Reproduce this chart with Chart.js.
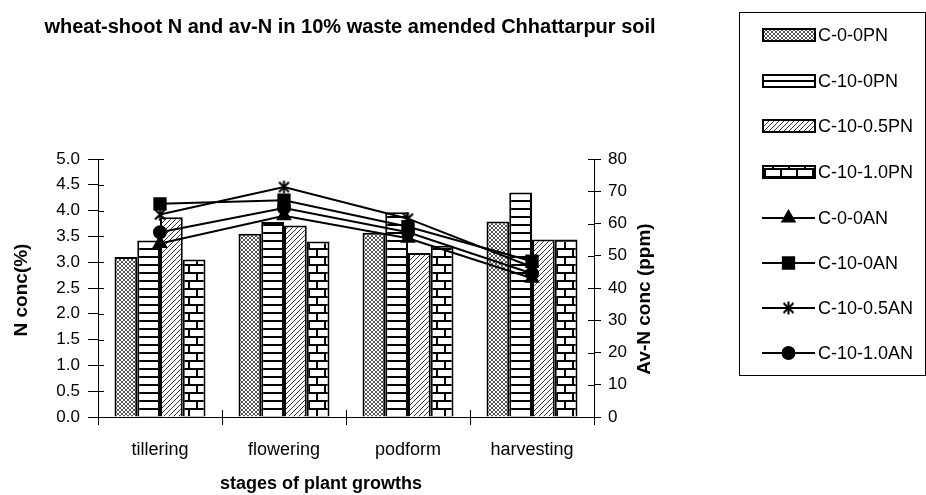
<!DOCTYPE html>
<html><head><meta charset="utf-8">
<script src="https://cdn.jsdelivr.net/npm/chart.js@4.4.0/dist/chart.umd.min.js"></script>
<style>html,body{margin:0;padding:0;background:#fff;}canvas{display:block;}</style>
</head><body>
<canvas id="c" width="926" height="495"></canvas>
<script>
const categories = ['tillering', 'flowering', 'podform', 'harvesting'];
const barLabels = ['C-0-0PN', 'C-10-0PN', 'C-10-0.5PN', 'C-10-1.0PN'];
const pnC00  = [3.10, 3.55, 3.57, 3.79];
const pnC100 = [3.42, 3.78, 3.97, 4.35];
const pnC105 = [3.87, 3.71, 3.18, 3.44];
const pnC110 = [3.05, 3.40, 3.32, 3.44];
const lineLabels = ['C-0-0AN', 'C-10-0AN', 'C-10-0.5AN', 'C-10-1.0AN'];
const anC00  = [53.8, 62.4, 55.4, 43.0];
const anC100 = [66.1, 67.2, 59.0, 48.3];
const anC105 = [62.8, 71.3, 61.5, 46.5];
const anC110 = [57.3, 64.8, 57.3, 44.5];
const titleText = 'wheat-shoot N and av-N in 10% waste amended Chhattarpur soil';
const xTitle = 'stages of plant growths';
const yTitle = 'N conc(%)';
const y1Title = 'Av-N conc (ppm)';

function tile(w, h, draw) {
  const c = document.createElement('canvas'); c.width = w; c.height = h;
  const g = c.getContext('2d'); g.fillStyle = '#fff'; g.fillRect(0, 0, w, h);
  draw(g);
  return document.getElementById('c').getContext('2d').createPattern(c, 'repeat');
}
const patCross = tile(4, 4, g => { g.fillStyle = '#555'; for (let i = 0; i < 4; i++) { g.fillRect(i, i, 1, 1); g.fillRect(3 - i, i, 1, 1); } });
const patHoriz = tile(4, 8, g => { g.fillStyle = '#000'; g.fillRect(0, 0, 4, 2); });
const patDiag = tile(5, 5, g => { g.fillStyle = '#333'; for (let i = 0; i < 5; i++) { g.fillRect(i, 4 - i, 1, 1); } });
const patBrick = tile(16, 16, g => { g.fillStyle = '#000'; g.fillRect(0, 0, 16, 2); g.fillRect(0, 8, 16, 2); g.fillRect(4, 2, 2, 6); g.fillRect(12, 10, 2, 6); });
const barPats = [patCross, patHoriz, patDiag, patBrick];

// asterisk-like marker (X with vertical bar)
const starImg = (() => {
  const c = document.createElement('canvas'); c.width = 15; c.height = 15;
  const g = c.getContext('2d'); g.strokeStyle = '#000'; g.lineWidth = 2;
  g.beginPath(); g.moveTo(2.5, 2.5); g.lineTo(12.5, 12.5); g.moveTo(12.5, 2.5); g.lineTo(2.5, 12.5);
  g.moveTo(7.5, 1); g.lineTo(7.5, 14); g.stroke();
  return c;
})();

const barData = [pnC00, pnC100, pnC105, pnC110];
const lineData = [anC00, anC100, anC105, anC110];
const lineStyles = ['triangle', 'rect', starImg, 'circle'];
const lineRadius = [7, 8, 7, 6];

const FONT = '"Liberation Sans", Arial, sans-serif';

const datasets = [];
lineLabels.forEach((l, i) => datasets.push({
  type: 'line', label: l, data: lineData[i], yAxisID: 'y1', order: 0,
  borderColor: '#000', borderWidth: 2, backgroundColor: '#000',
  pointStyle: lineStyles[i], pointRadius: lineRadius[i], pointBorderWidth: 2,
  pointBackgroundColor: '#000', pointBorderColor: '#000', tension: 0
}));
barLabels.forEach((l, i) => datasets.push({
  type: 'bar', label: l, data: barData[i], yAxisID: 'y', order: 1,
  backgroundColor: barPats[i], borderColor: '#000', borderWidth: 2,
  barPercentage: 1.0, categoryPercentage: 0.734
}));

const deco = {
  id: 'deco',
  afterDraw(chart) {
    const ctx = chart.ctx, a = chart.chartArea;
    const x = chart.scales.x, y = chart.scales.y, y1 = chart.scales.y1;
    ctx.save();
    ctx.strokeStyle = '#000'; ctx.lineWidth = 1;
    ctx.beginPath();
    y.ticks.forEach((t, i) => { const p = Math.round(y.getPixelForTick(i)) + 0.5; ctx.moveTo(a.left, p); ctx.lineTo(a.left + 6, p); });
    y1.ticks.forEach((t, i) => { const p = Math.round(y1.getPixelForTick(i)) + 0.5; ctx.moveTo(a.right - 6, p); ctx.lineTo(a.right, p); });
    for (let i = 0; i <= categories.length; i++) { const p = Math.round(x.getPixelForValue(i - 0.5)) + 0.5; ctx.moveTo(p, a.bottom); ctx.lineTo(p, a.bottom - 7); }
    ctx.stroke();

    ctx.fillStyle = '#000';
    ctx.textAlign = 'center'; ctx.textBaseline = 'alphabetic';
    ctx.font = 'bold 20px ' + FONT;
    ctx.fillText(titleText, 350, 33);
    ctx.font = 'bold 18px ' + FONT;
    ctx.fillText(xTitle, 321, 489);
    ctx.font = 'bold 19px ' + FONT;
    ctx.textBaseline = 'middle';
    ctx.save(); ctx.translate(22, 290); ctx.rotate(-Math.PI / 2); ctx.fillText(yTitle, 0, 0); ctx.restore();
    ctx.save(); ctx.translate(645, 299); ctx.rotate(-Math.PI / 2); ctx.fillText(y1Title, 0, 0); ctx.restore();

    // legend
    ctx.lineWidth = 1; ctx.strokeStyle = '#000';
    ctx.strokeRect(739.5, 12.5, 186, 363);
    const rows = [35, 81, 126, 172, 218, 263, 308, 353];
    ctx.font = '18px ' + FONT; ctx.textAlign = 'left'; ctx.textBaseline = 'middle';
    barLabels.forEach((l, i) => {
      const yy = rows[i];
      ctx.fillStyle = barPats[i]; ctx.fillRect(763, yy - 6, 52, 12);
      ctx.lineWidth = 2; ctx.strokeStyle = '#000'; ctx.strokeRect(763, yy - 6, 52, 12);
      ctx.fillStyle = '#000'; ctx.fillText(l, 818, yy + 1);
    });
    lineLabels.forEach((l, i) => {
      const yy = rows[4 + i];
      ctx.lineWidth = 2; ctx.strokeStyle = '#000';
      ctx.beginPath(); ctx.moveTo(762, yy); ctx.lineTo(815, yy); ctx.stroke();
      ctx.fillStyle = '#000';
      Chart.helpers.drawPoint(ctx, { pointStyle: lineStyles[i], radius: lineRadius[i], borderWidth: 2, rotation: 0 }, 788.5, yy);
      ctx.fillStyle = '#000'; ctx.fillText(l, 818, yy + 1);
    });
    ctx.restore();
  }
};

new Chart(document.getElementById('c'), {
  data: { labels: categories, datasets },
  options: {
    responsive: false, animation: false, devicePixelRatio: 1,
    layout: { padding: { top: 159, left: 0, right: 926 - 594 - 70, bottom: 0 } },
    plugins: { legend: { display: false }, tooltip: { enabled: false }, title: { display: false } },
    scales: {
      x: {
        offset: true,
        grid: { display: true, drawOnChartArea: false, offset: true, tickLength: 8, color: '#000' },
        border: { color: '#000', width: 1 },
        ticks: { color: '#000', font: { family: FONT, size: 18 }, padding: 14, maxRotation: 0 },
        afterFit(s) { s.height = 78; }
      },
      y: {
        position: 'left', min: 0, max: 5,
        grid: { drawOnChartArea: false, tickLength: 10, color: '#000' },
        border: { color: '#000', width: 1 },
        ticks: { stepSize: 0.5, color: '#000', font: { family: FONT, size: 17 }, padding: 8, callback: v => v.toFixed(1) },
        afterFit(s) { s.width = 98; }
      },
      y1: {
        position: 'right', min: 0, max: 80,
        grid: { drawOnChartArea: false, tickLength: 7, color: '#000' },
        border: { color: '#000', width: 1 },
        ticks: { stepSize: 10, color: '#000', font: { family: FONT, size: 17 }, padding: 7 },
        afterFit(s) { s.width = 70; }
      }
    }
  },
  plugins: [deco]
});
</script>
</body></html>
